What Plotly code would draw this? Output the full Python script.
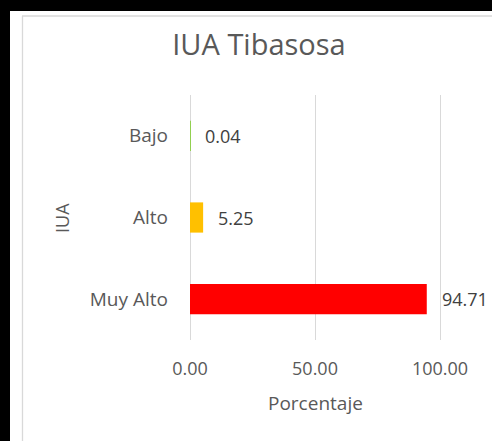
import plotly.graph_objects as go

categories = ["Muy Alto", "Alto", "Bajo"]
values = [94.71, 5.25, 0.04]
colors = ["#FF0000", "#FFC000", "#92D050"]
x_ticks = [0, 50, 100]
x_tick_labels = ["0.00", "50.00", "100.00"]
title_text = "IUA Tibasosa"
x_title = "Porcentaje"
y_title = "IUA"

W, H = 492, 441
L, R, T, B = 188, 50, 95, 101
PW, PH = W - L - R, H - T - B

def px_x(x):
    return (x - L) / PW

def px_y(y):
    return (H - B - y) / PH

FONT = "Open Sans"
GRAY = "#595959"

fig = go.Figure()
fig.add_trace(go.Bar(
    x=values, y=categories, orientation="h",
    marker=dict(color=colors, line=dict(width=0)),
    width=0.37, hoverinfo="skip",
))

for v, c in zip(values, categories):
    fig.add_annotation(x=v, y=c, xref="x", yref="y", text=f"{v:.2f}",
                       showarrow=False, xanchor="left", xshift=13,
                       font=dict(family=FONT, size=18, color="#404040"))

fig.add_annotation(x=px_x(62), y=px_y(218), xref="paper", yref="paper",
                   text=y_title, textangle=-90, showarrow=False,
                   xanchor="center", yanchor="middle",
                   font=dict(family=FONT, size=18, color=GRAY))
fig.add_annotation(x=px_x(315), y=px_y(403), xref="paper", yref="paper",
                   text=x_title, showarrow=False,
                   xanchor="center", yanchor="middle",
                   font=dict(family=FONT, size=19, color=GRAY))

shapes = [
    dict(type="rect", xref="paper", yref="paper", x0=px_x(-5), x1=px_x(10),
         y0=px_y(-5), y1=px_y(446), fillcolor="black", line=dict(width=0), layer="above"),
    dict(type="rect", xref="paper", yref="paper", x0=px_x(-5), x1=px_x(497),
         y0=px_y(-5), y1=px_y(11), fillcolor="black", line=dict(width=0), layer="above"),
    dict(type="line", xref="paper", yref="paper", x0=px_x(22.5), x1=px_x(22.5),
         y0=px_y(16), y1=px_y(446), line=dict(color="#D9D9D9", width=1.3)),
    dict(type="line", xref="paper", yref="paper", x0=px_x(22), x1=px_x(497),
         y0=px_y(16), y1=px_y(16), line=dict(color="#D9D9D9", width=1.3)),
]

fig.update_layout(
    width=W, height=H,
    margin=dict(l=L, r=R, t=T, b=B),
    paper_bgcolor="white", plot_bgcolor="white",
    showlegend=False,
    title=dict(text=title_text, x=259 / W, xanchor="center", y=1 - 45 / H,
               yanchor="middle", font=dict(family=FONT, size=29, color=GRAY)),
    shapes=shapes,
    xaxis=dict(range=[-0.8, 100.8], tickvals=x_ticks, ticktext=x_tick_labels,
               showgrid=True, gridcolor="#D9D9D9", gridwidth=1.3,
               zeroline=False, showline=False, ticks="",
               ticklabelstandoff=16,
               tickfont=dict(family=FONT, size=18, color=GRAY)),
    yaxis=dict(type="category", categoryorder="array", categoryarray=categories,
               showgrid=False, zeroline=False, showline=False, ticks="",
               ticklabelstandoff=19,
               tickfont=dict(family=FONT, size=19, color=GRAY)),
)

fig.write_html("out.html", config={"displayModeBar": False},
               post_script="document.body.style.margin='0px';document.body.style.overflow='hidden';")
